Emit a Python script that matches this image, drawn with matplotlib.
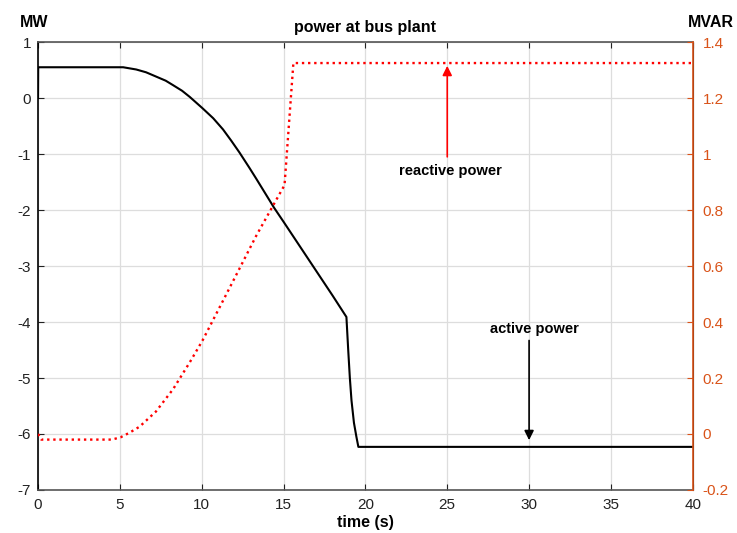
import numpy as np
import matplotlib
matplotlib.use("Agg")
import matplotlib.pyplot as plt
from matplotlib.ticker import FuncFormatter

plt.rcParams['font.family'] = ['Liberation Sans', 'DejaVu Sans']
plt.rcParams['axes.unicode_minus'] = False

# --- data ---
t_active = [0, 0.01, 5.2, 6.0, 6.6, 7.24, 7.8, 8.25, 8.8, 9.27, 10.04, 10.7, 11.3, 11.8,
            12.3, 12.9, 13.33, 14.15, 14.4, 15, 16, 17, 18, 18.84, 18.95, 19.05, 19.15,
            19.3, 19.45, 19.57, 40]
p_active = [0.0, 0.55, 0.55, 0.51, 0.46, 0.38, 0.31, 0.23, 0.13, 0.02, -0.18, -0.36, -0.56,
            -0.76, -0.97, -1.24, -1.44, -1.83, -1.95, -2.21, -2.65, -3.09, -3.53, -3.91,
            -4.5, -5.0, -5.4, -5.8, -6.05, -6.23, -6.23]

t_reactive = [0, 0.2, 4.5, 5.04, 5.6, 6.2, 7.2, 8.25, 9.27, 10.04, 11.3, 12.3, 13.33,
              14.35, 15.06, 15.6, 40]
q_reactive = [0.0, -0.02, -0.02, -0.012, 0.005, 0.026, 0.08, 0.16, 0.256, 0.333, 0.476,
              0.59, 0.708, 0.815, 0.889, 1.325, 1.325]

mvar_color = '#D95319'

fig = plt.figure(figsize=(7.37, 5.33), dpi=100)
ax1 = fig.add_axes([0.0516, 0.0807, 0.8884, 0.8404])
ax2 = ax1.twinx()

ax1.plot(t_active, p_active, color='black', lw=1.5, zorder=3)
ax2.plot(t_reactive, q_reactive, color='red', lw=1.7, linestyle=(0, (1, 1.6)), zorder=3)

ax1.set_xlim(0, 40)
ax1.set_ylim(-7, 1)
ax2.set_ylim(-0.2, 1.4)
ax1.set_xticks(np.arange(0, 41, 5))
ax1.set_yticks(np.arange(-7, 2, 1))
ax2.set_yticks(np.arange(-0.2, 1.41, 0.2))
ax2.yaxis.set_major_formatter(FuncFormatter(lambda v, p: '%g' % round(v, 2)))

ax1.grid(True, color='#dddddd', lw=0.9)
ax1.set_axisbelow(True)

ax1.tick_params(direction='in', labelsize=11, colors='#222222', top=True, length=4)
ax1.tick_params(axis='x', pad=6)
ax1.tick_params(axis='y', pad=5)
ax2.tick_params(direction='in', labelsize=11, colors=mvar_color, length=4, pad=7)

for s in ['top', 'bottom']:
    ax1.spines[s].set_color('#555555')
    ax1.spines[s].set_linewidth(1.2)
ax1.spines['left'].set_color('black')
ax1.spines['left'].set_linewidth(1.2)
ax2.spines['right'].set_color(mvar_color)
ax2.spines['right'].set_linewidth(1.2)
ax2.spines['left'].set_visible(False)
ax2.spines['top'].set_visible(False)
ax2.spines['bottom'].set_visible(False)

ax1.set_title('power at bus plant', fontsize=11.5, fontweight='bold', pad=7)
ax1.set_xlabel('time (s)', fontsize=11.5, fontweight='bold', labelpad=2)
fig.text(0.027, 0.958, 'MW', fontsize=11.5, fontweight='bold', ha='left', va='center')
fig.text(0.965, 0.958, 'MVAR', fontsize=11.5, fontweight='bold', ha='center', va='center')

# annotations
ax2.annotate('', xy=(25, 1.325), xytext=(25, 0.98),
             arrowprops=dict(arrowstyle='-|>', color='red', lw=1.2, mutation_scale=14))
ax1.text(25.2, -1.3, 'reactive power', fontsize=10.5, fontweight='bold', ha='center', va='center')
ax1.annotate('', xy=(30, -6.16), xytext=(30, -4.28),
             arrowprops=dict(arrowstyle='-|>', color='black', lw=1.2, mutation_scale=14))
ax1.text(30.3, -4.12, 'active power', fontsize=10.5, fontweight='bold', ha='center', va='center')

fig.savefig('out.png', dpi=100)
